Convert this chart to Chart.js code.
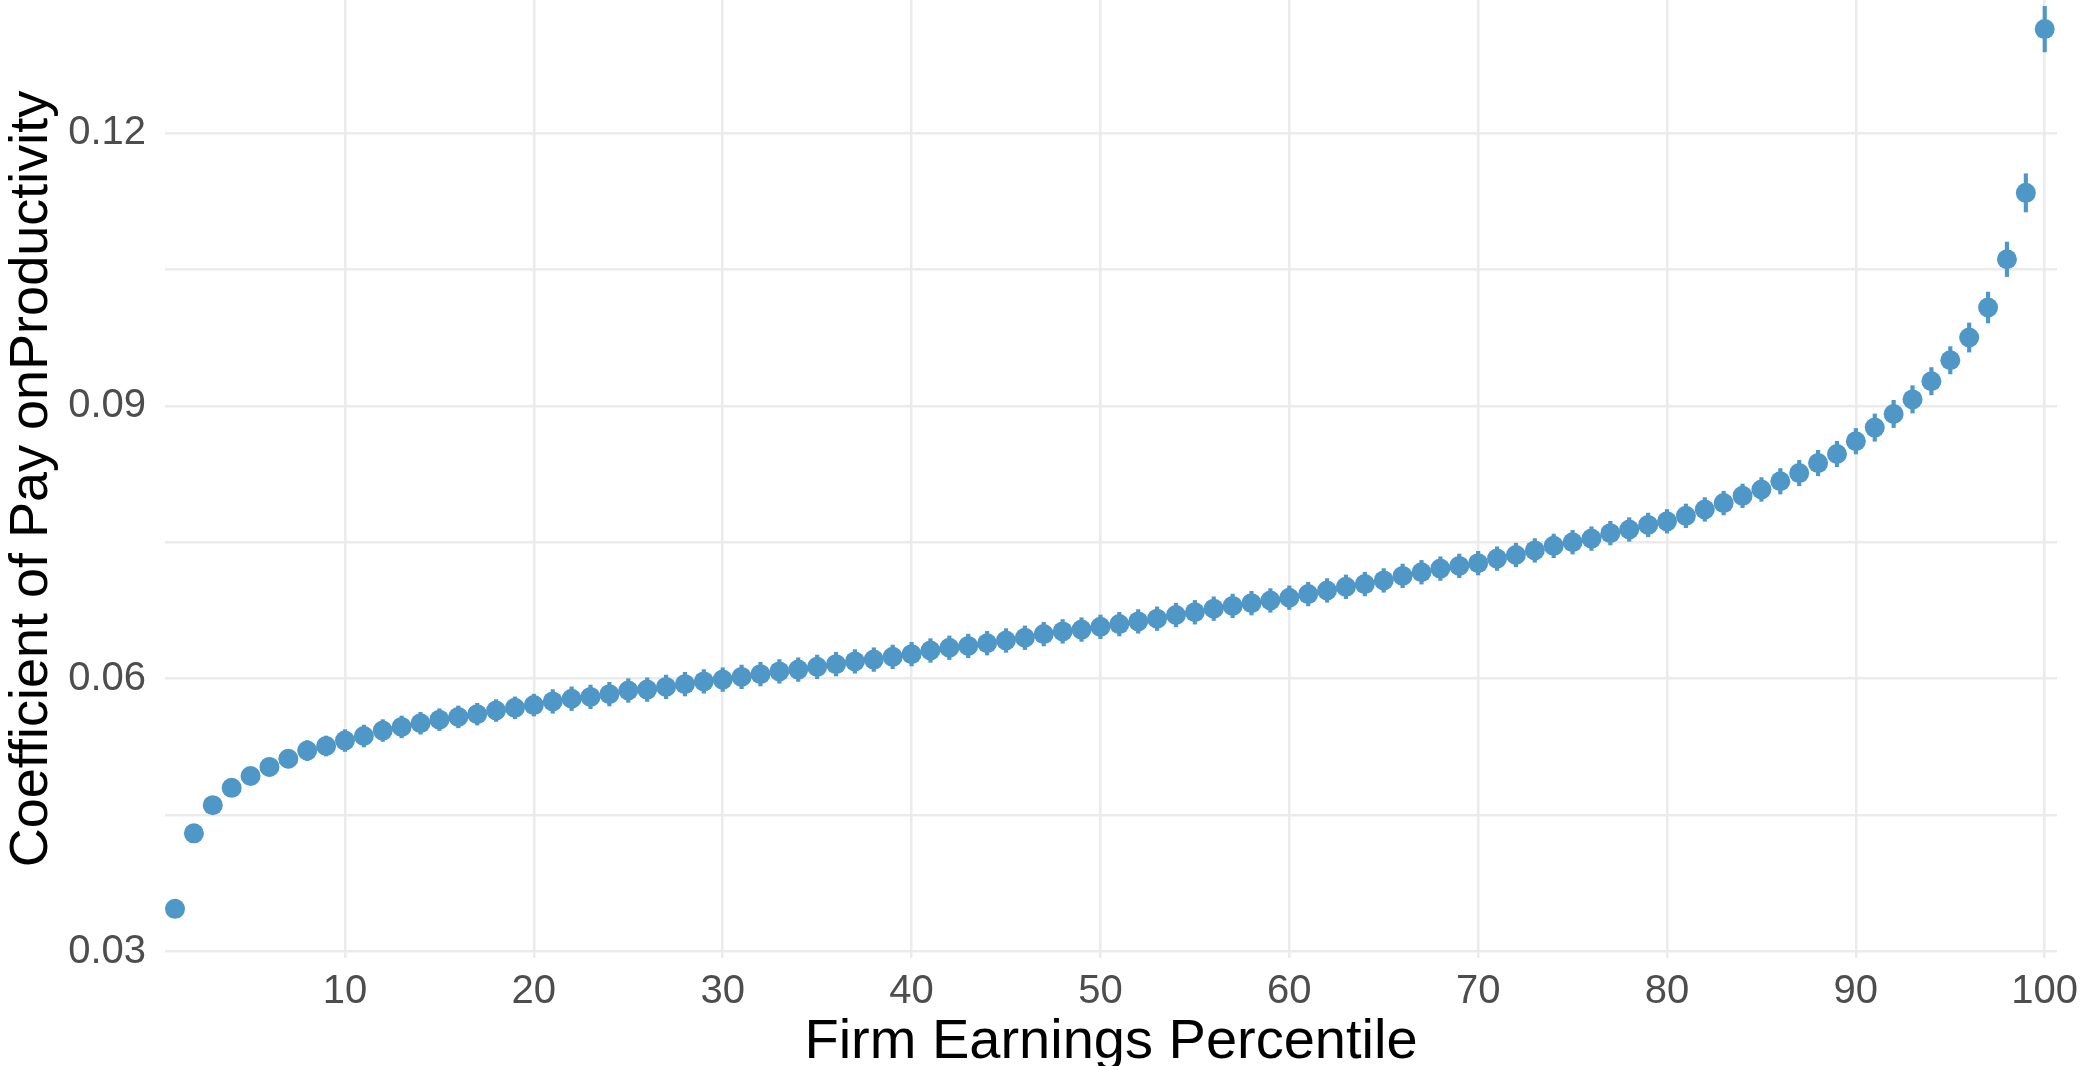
<!DOCTYPE html>
<html>
<head>
<meta charset="utf-8">
<script src="https://cdn.jsdelivr.net/npm/chart.js@4.4.0/dist/chart.umd.min.js"></script>
<style>
  html, body { margin: 0; padding: 0; background: #fff; overflow: hidden; }
</style>
</head>
<body>
<canvas id="chart" width="2087" height="1076"></canvas>
<script>
const percentiles = [
  1, 2, 3, 4, 5, 6, 7, 8, 9, 10,
  11, 12, 13, 14, 15, 16, 17, 18, 19, 20,
  21, 22, 23, 24, 25, 26, 27, 28, 29, 30,
  31, 32, 33, 34, 35, 36, 37, 38, 39, 40,
  41, 42, 43, 44, 45, 46, 47, 48, 49, 50,
  51, 52, 53, 54, 55, 56, 57, 58, 59, 60,
  61, 62, 63, 64, 65, 66, 67, 68, 69, 70,
  71, 72, 73, 74, 75, 76, 77, 78, 79, 80,
  81, 82, 83, 84, 85, 86, 87, 88, 89, 90,
  91, 92, 93, 94, 95, 96, 97, 98, 99, 100
];

// point estimates
const coefficients = [
  0.0347, 0.0430, 0.0461, 0.0480, 0.0493, 0.0503, 0.0512, 0.0521, 0.0526, 0.0532,
  0.0537, 0.0543, 0.0547, 0.0551, 0.0555, 0.0558, 0.0561, 0.0565, 0.0568, 0.0571,
  0.0575, 0.0578, 0.0580, 0.0583, 0.0587, 0.0588, 0.0591, 0.0594, 0.0597, 0.0599,
  0.0602, 0.0605, 0.0608, 0.0610, 0.0613, 0.0616, 0.0619, 0.0621, 0.0624, 0.0627,
  0.0631, 0.0634, 0.0636, 0.0639, 0.0642, 0.0645, 0.0649, 0.0652, 0.0654, 0.0657,
  0.0660, 0.0663, 0.0666, 0.0670, 0.0673, 0.0677, 0.0680, 0.0683, 0.0686, 0.0689,
  0.0693, 0.0697, 0.0701, 0.0704, 0.0708, 0.0713, 0.0717, 0.0721, 0.0724, 0.0727,
  0.0732, 0.0736, 0.0741, 0.0746, 0.0750, 0.0754, 0.0760, 0.0764, 0.0769, 0.0773,
  0.0779, 0.0786, 0.0793, 0.0801, 0.0808, 0.0817, 0.0826, 0.0837, 0.0847, 0.0861,
  0.0876, 0.0891, 0.0907, 0.0927, 0.0950, 0.0975, 0.1008, 0.1061, 0.1134, 0.1314
];

// half length of the error bars
const errors = [
  0.0006, 0.0006, 0.0006, 0.0007, 0.0008, 0.0010, 0.0010, 0.0011, 0.0011, 0.0012,
  0.0012, 0.0012, 0.0012, 0.0012, 0.0012, 0.0012, 0.0012, 0.0012, 0.0012, 0.0012,
  0.0013, 0.0013, 0.0013, 0.0013, 0.0013, 0.0013, 0.0013, 0.0013, 0.0013, 0.0013,
  0.0013, 0.0013, 0.0013, 0.0013, 0.0013, 0.0013, 0.0013, 0.0013, 0.0013, 0.0013,
  0.0013, 0.0013, 0.0013, 0.0013, 0.0013, 0.0013, 0.0013, 0.0013, 0.0013, 0.0013,
  0.0013, 0.0013, 0.0013, 0.0013, 0.0013, 0.0013, 0.0013, 0.0013, 0.0013, 0.0013,
  0.0013, 0.0013, 0.0013, 0.0013, 0.0013, 0.0013, 0.0013, 0.0013, 0.0013, 0.0013,
  0.0013, 0.0013, 0.0013, 0.0013, 0.0013, 0.0013, 0.0013, 0.0013, 0.0013, 0.0013,
  0.0013, 0.0013, 0.0013, 0.0013, 0.0013, 0.0014, 0.0014, 0.0014, 0.0014, 0.0014,
  0.0015, 0.0015, 0.0015, 0.0015, 0.0015, 0.0016, 0.0017, 0.0019, 0.0021, 0.0025
];

const yTickLabels = ['0.03', '0.06', '0.09', '0.12'];
const xTitle = 'Firm Earnings Percentile';
const yTitle = 'Coefficient of Pay onProductivity';

const pointColor = '#4F97C6';
const gridColor = '#EBEBEB';
const tickColor = '#4D4D4D';
const fontFamily = '"Liberation Sans", Arial, sans-serif';

const points = percentiles.map((p, i) => ({ x: p, y: coefficients[i] }));
const bars = percentiles.map((p, i) => ({ x: p, y: [coefficients[i] - errors[i], coefficients[i] + errors[i]] }));

const ctx = document.getElementById('chart').getContext('2d');
new Chart(ctx, {
  type: 'scatter',
  data: {
    datasets: [
      {
        type: 'bar',
        data: bars,
        backgroundColor: pointColor,
        borderWidth: 0,
        barThickness: 3.5,
        grouped: false,
        clip: false
      },
      {
        type: 'scatter',
        data: points,
        backgroundColor: pointColor,
        borderWidth: 0,
        pointRadius: 10,
        pointHoverRadius: 10,
        clip: false
      }
    ]
  },
  options: {
    responsive: false,
    animation: false,
    layout: { autoPadding: false, padding: { left: 0, right: 30, top: 0, bottom: 0 } },
    plugins: { legend: { display: false }, tooltip: { enabled: false } },
    scales: {
      x: {
        type: 'linear',
        min: 0.47,
        max: 100.65,
        offset: false,
        afterFit: s => { s.height = 118; s.paddingLeft = 0; s.paddingRight = 0; },
        border: { display: false },
        grid: { color: gridColor, lineWidth: 2.5, drawTicks: false, offset: false },
        ticks: {
          stepSize: 10,
          includeBounds: false,
          autoSkip: false,
          maxRotation: 0,
          padding: 10,
          color: tickColor,
          font: { family: fontFamily, size: 40 }
        },
        title: {
          display: true,
          text: xTitle,
          color: '#000',
          padding: 0,
          font: { family: fontFamily, size: 56 }
        }
      },
      y: {
        type: 'linear',
        min: 0.0293,
        max: 0.1346,
        afterFit: s => { s.width = 165; s.paddingTop = 0; s.paddingBottom = 0; },
        border: { display: false },
        grid: { color: gridColor, lineWidth: 2.5, drawTicks: false },
        ticks: {
          stepSize: 0.015,
          includeBounds: false,
          autoSkip: false,
          padding: 19,
          color: tickColor,
          font: { family: fontFamily, size: 40 },
          callback: v => {
            const lbl = Number(v).toFixed(2);
            return yTickLabels.includes(lbl) ? lbl : '';
          }
        },
        title: {
          display: true,
          text: yTitle,
          color: '#000',
          padding: 0,
          font: { family: fontFamily, size: 54 }
        }
      }
    }
  }
});
</script>
</body>
</html>
